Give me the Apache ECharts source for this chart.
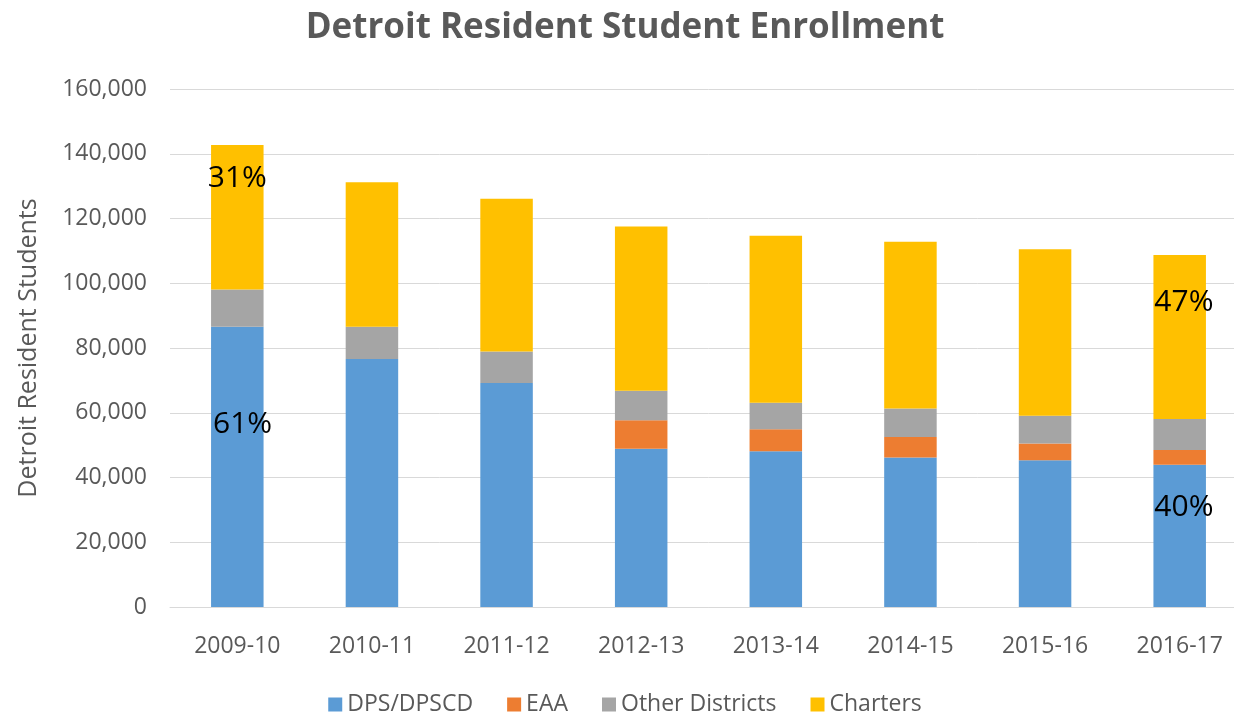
<!DOCTYPE html>
<html>
<head>
<meta charset="utf-8">
<script src="https://cdn.jsdelivr.net/npm/echarts@6/dist/echarts.min.js"></script>
<style>html,body{margin:0;padding:0;background:#fff;overflow:hidden;}#c{width:1250px;height:719px;}</style>
</head>
<body>
<div id="c"></div>
<script>
var categories = ['2009-10','2010-11','2011-12','2012-13','2013-14','2014-15','2015-16','2016-17'];
var dps = [86600, 76600, 69200, 48900, 48100, 46200, 45300, 43900];
var eaa = [0, 0, 0, 8800, 6800, 6300, 5200, 4600];
var otherDistricts = [11500, 10000, 9700, 9100, 8200, 8800, 8600, 9600];
var charters = [44600, 44600, 47200, 50700, 51600, 51500, 51400, 50600];
var dpsPctLabels = ['61%', '', '', '', '', '', '', '40%'];
var charterPctLabels = ['31%', '', '', '', '', '', '', '47%'];
var yTicks = [0, 20000, 40000, 60000, 80000, 100000, 120000, 140000, 160000];

var FONT = '"Open Sans", "Noto Sans", sans-serif';
var GREY = '#595959';

function withLabels(values, labels, offsets) {
  return values.map(function (v, i) {
    if (!labels[i]) return v;
    return {
      value: v,
      label: {
        show: true,
        formatter: labels[i],
        position: offsets[i],
        align: 'center',
        verticalAlign: 'middle',
        fontSize: 30,
        color: '#000',
        fontFamily: FONT
      }
    };
  });
}

var chart = echarts.init(document.getElementById('c'), null, {renderer: 'canvas'});
var barW = '39%';
chart.setOption({
  animation: false,
  backgroundColor: '#fff',
  title: {
    text: 'Detroit Resident Student Enrollment',
    left: 'center',
    top: 6,
    textStyle: {fontSize: 35, fontWeight: 'bold', color: GREY, fontFamily: FONT}
  },
  grid: {left: 170, top: 89, right: 3, height: 518, containLabel: false, outerBoundsMode: 'none'},
  legend: {
    top: 688,
    left: 'center',
    itemWidth: 14,
    itemHeight: 14,
    itemGap: 34,
    icon: 'rect',
    textStyle: {fontSize: 23, color: GREY, fontFamily: FONT},
    data: ['DPS/DPSCD', 'EAA', 'Other Districts', 'Charters']
  },
  xAxis: {
    type: 'category',
    data: categories,
    axisLine: {lineStyle: {color: '#d9d9d9', width: 1}},
    axisTick: {show: false},
    axisLabel: {fontSize: 23, color: GREY, fontFamily: FONT, margin: 28}
  },
  yAxis: {
    type: 'value',
    min: yTicks[0],
    max: yTicks[yTicks.length - 1],
    interval: yTicks[1] - yTicks[0],
    name: 'Detroit Resident Students',
    nameLocation: 'middle',
    nameGap: 129,
    nameTextStyle: {fontSize: 25, color: GREY, fontFamily: FONT},
    axisLine: {show: false},
    axisTick: {show: false},
    splitLine: {lineStyle: {color: '#d9d9d9', width: 1}},
    axisLabel: {
      fontSize: 23, color: GREY, fontFamily: FONT, margin: 23,
      formatter: function (v) { return v.toLocaleString('en-US'); }
    }
  },
  series: [
    {name: 'DPS/DPSCD', type: 'bar', stack: 'a', barWidth: barW, itemStyle: {color: '#5b9bd5'},
     data: withLabels(dps, dpsPctLabels, [['60%', 98], null, null, null, null, null, null, ['58%', 43]])},
    {name: 'EAA', type: 'bar', stack: 'a', barWidth: barW, itemStyle: {color: '#ed7d31'}, data: eaa},
    {name: 'Other Districts', type: 'bar', stack: 'a', barWidth: barW, itemStyle: {color: '#a5a5a5'}, data: otherDistricts},
    {name: 'Charters', type: 'bar', stack: 'a', barWidth: barW, itemStyle: {color: '#ffc000'},
     data: withLabels(charters, charterPctLabels, [['50%', 33], null, null, null, null, null, null, ['58%', 47]])}
  ]
});
</script>
</body>
</html>
